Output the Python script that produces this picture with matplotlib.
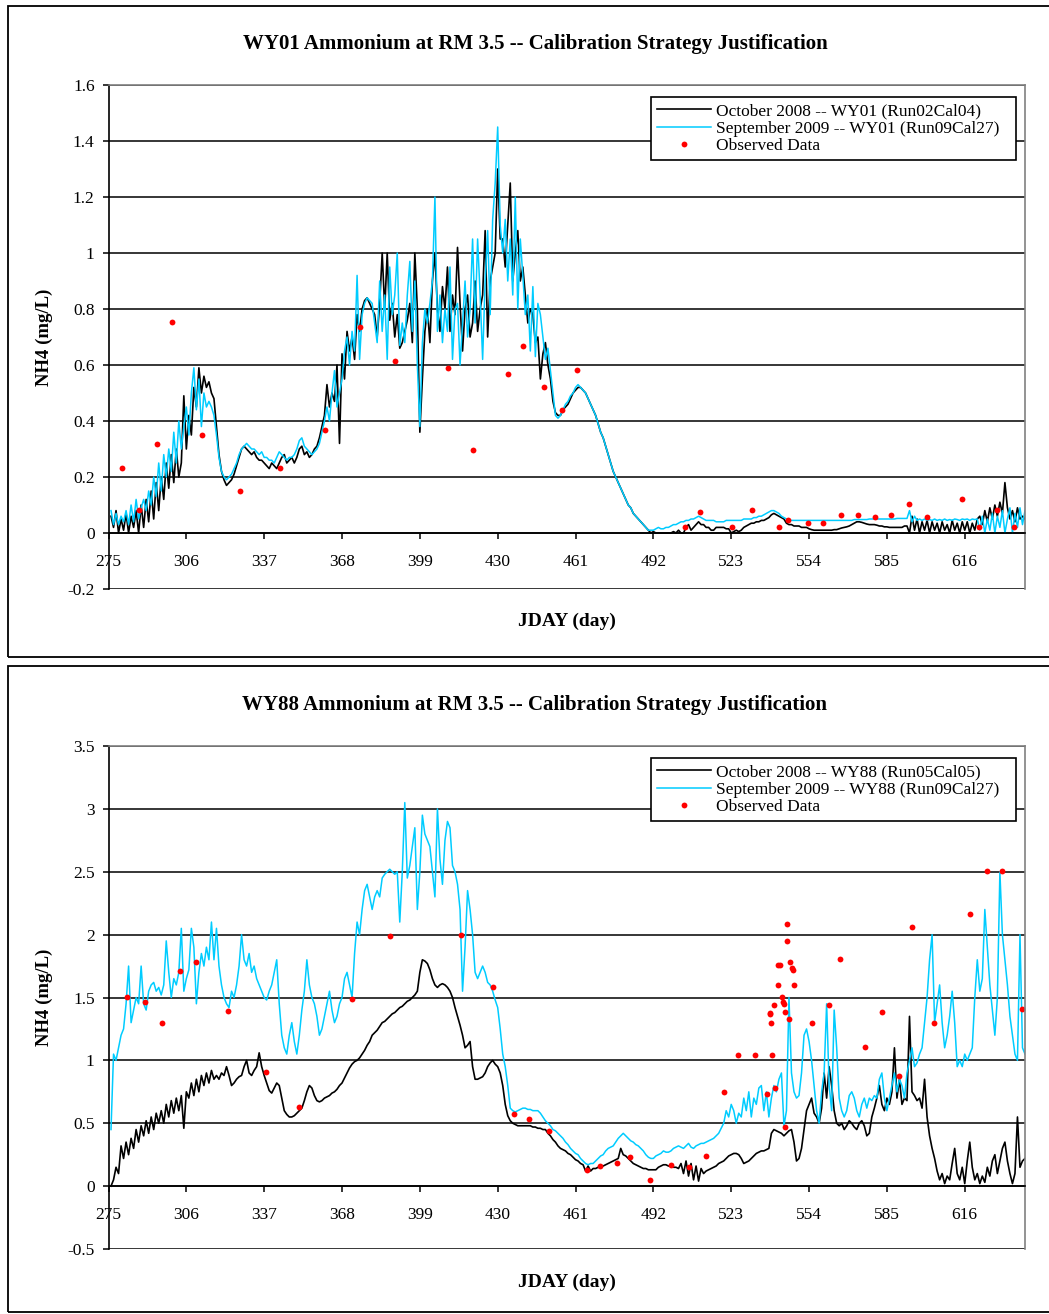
import numpy as np
import matplotlib
matplotlib.use('Agg')
import matplotlib.pyplot as plt
from matplotlib.patches import Rectangle
from matplotlib.ticker import FuncFormatter, FixedLocator

#---------------------FONT and other graphics------------------------
font = {'family': 'Liberation Serif', 'size': 12.5}
matplotlib.rc('font', **font)

#---------------------DATA------------------------
jday = np.arange(276, 641)          # daily model output, JDAY 276..640
xticks = [275, 306, 337, 368, 399, 430, 461, 492, 523, 554, 585, 616]

# WY01 -- October 2008 (Run02Cal04)
wy01_oct08 = [
    0.06, 0.02, 0.08, 0.00, 0.05, 0.01, 0.07, 0.00, 0.06, 0.02,
    0.08, 0.00, 0.10, 0.02, 0.12, 0.04, 0.15, 0.05, 0.18, 0.08,
    0.20, 0.12, 0.25, 0.16, 0.28, 0.18, 0.30, 0.20, 0.25, 0.49,
    0.30, 0.42, 0.35, 0.52, 0.45, 0.59, 0.50, 0.56, 0.52, 0.54,
    0.50, 0.48, 0.38, 0.28, 0.22, 0.19, 0.17, 0.18, 0.19, 0.21,
    0.24, 0.27, 0.30, 0.31, 0.30, 0.29, 0.28, 0.29, 0.27, 0.26,
    0.26, 0.25, 0.24, 0.23, 0.25, 0.24, 0.23, 0.25, 0.27, 0.28,
    0.25, 0.26, 0.27, 0.25, 0.27, 0.30, 0.31, 0.28, 0.29, 0.27,
    0.28, 0.30, 0.31, 0.34, 0.38, 0.42, 0.53, 0.45, 0.50, 0.47,
    0.60, 0.32, 0.64, 0.55, 0.72, 0.65, 0.70, 0.62, 0.78, 0.72,
    0.80, 0.83, 0.84, 0.82, 0.80, 0.78, 0.70, 0.82, 1.00, 0.80,
    1.00, 0.76, 0.82, 0.70, 0.78, 0.66, 0.68, 0.72, 0.76, 0.82,
    0.68, 1.00, 0.80, 0.36, 0.55, 0.72, 0.80, 0.68, 0.90, 1.00,
    0.80, 0.72, 0.88, 0.80, 0.95, 0.72, 0.85, 0.78, 1.02, 0.82,
    0.65, 0.80, 0.85, 0.70, 0.75, 0.90, 0.72, 0.80, 0.85, 1.08,
    0.70, 0.90, 0.95, 1.00, 1.30, 1.05, 1.05, 0.95, 1.10, 1.25,
    0.90, 1.00, 1.08, 0.90, 0.95, 0.85, 0.75, 0.80, 0.78, 0.68,
    0.70, 0.55, 0.64, 0.68, 0.60, 0.55, 0.47, 0.43, 0.42, 0.42,
    0.44, 0.45, 0.46, 0.48, 0.50, 0.51, 0.52, 0.52, 0.51, 0.50,
    0.48, 0.46, 0.44, 0.42, 0.39, 0.36, 0.34, 0.31, 0.28, 0.25,
    0.22, 0.20, 0.18, 0.16, 0.14, 0.12, 0.10, 0.09, 0.07, 0.06,
    0.05, 0.04, 0.03, 0.02, 0.01, 0.00, 0.005, 0.00, 0.00, 0.00,
    0.00, 0.00, 0.00, 0.00, 0.005, 0.00, 0.01, 0.00, 0.00, 0.02,
    0.03, 0.01, 0.02, 0.03, 0.04, 0.03, 0.03, 0.02, 0.02, 0.01,
    0.01, 0.02, 0.02, 0.02, 0.02, 0.015, 0.015, 0.00, 0.005, 0.01,
    0.005, 0.01, 0.02, 0.025, 0.03, 0.035, 0.035, 0.04, 0.04, 0.045,
    0.045, 0.05, 0.055, 0.065, 0.07, 0.065, 0.06, 0.055, 0.05, 0.035,
    0.03, 0.03, 0.025, 0.025, 0.025, 0.02, 0.02, 0.02, 0.015, 0.012,
    0.01, 0.01, 0.01, 0.01, 0.01, 0.01, 0.01, 0.01, 0.012, 0.012,
    0.015, 0.018, 0.02, 0.022, 0.025, 0.03, 0.035, 0.04, 0.04, 0.038,
    0.035, 0.032, 0.03, 0.03, 0.03, 0.028, 0.025, 0.025, 0.022, 0.022,
    0.02, 0.02, 0.02, 0.02, 0.02, 0.02, 0.025, 0.025, 0.00, 0.06,
    0.01, 0.05, 0.00, 0.04, 0.01, 0.045, 0.00, 0.04, 0.01, 0.035,
    0.00, 0.04, 0.01, 0.03, 0.00, 0.045, 0.01, 0.035, 0.00, 0.04,
    0.01, 0.04, 0.00, 0.035, 0.01, 0.05, 0.06, 0.03, 0.08, 0.04,
    0.09, 0.05, 0.10, 0.06, 0.11, 0.07, 0.18, 0.09, 0.05, 0.08,
    0.04, 0.09, 0.05, 0.06, 0.05]

# WY01 -- September 2009 (Run09Cal27)
wy01_sep09 = [
    0.08, 0.03, 0.07, 0.03, 0.06, 0.04, 0.08, 0.03, 0.10, 0.04,
    0.12, 0.05, 0.09, 0.12, 0.08, 0.15, 0.10, 0.20, 0.13, 0.25,
    0.15, 0.28, 0.20, 0.30, 0.22, 0.36, 0.25, 0.40, 0.30, 0.38,
    0.45, 0.35, 0.50, 0.59, 0.44, 0.55, 0.38, 0.50, 0.45, 0.47,
    0.45, 0.42, 0.35, 0.27, 0.22, 0.20, 0.19, 0.20, 0.21, 0.23,
    0.25, 0.28, 0.30, 0.31, 0.32, 0.31, 0.30, 0.30, 0.29, 0.28,
    0.29, 0.27, 0.27, 0.26, 0.26, 0.25, 0.27, 0.29, 0.28, 0.27,
    0.26, 0.27, 0.27, 0.28, 0.30, 0.33, 0.34, 0.31, 0.30, 0.29,
    0.28, 0.29, 0.30, 0.32, 0.36, 0.40, 0.45, 0.40, 0.50, 0.58,
    0.45, 0.50, 0.55, 0.65, 0.70, 0.60, 0.72, 0.65, 0.92, 0.62,
    0.78, 0.82, 0.84, 0.83, 0.82, 0.75, 0.68, 0.90, 0.72, 0.85,
    0.62, 0.95, 0.78, 0.85, 1.00, 0.67, 0.75, 0.68, 0.85, 0.97,
    0.72, 0.90, 0.60, 0.38, 0.68, 0.80, 0.75, 0.82, 0.90, 1.20,
    0.72, 0.85, 0.68, 0.80, 0.72, 0.95, 0.62, 0.80, 0.82, 0.60,
    0.75, 0.90, 0.70, 0.80, 1.05, 0.75, 1.05, 0.85, 0.62, 0.90,
    1.08, 0.78, 1.12, 1.25, 1.45, 1.10, 1.00, 1.12, 0.90, 1.05,
    0.85, 1.20, 0.80, 1.05, 0.92, 0.78, 0.85, 0.65, 0.88, 0.63,
    0.82, 0.78, 0.70, 0.62, 0.66, 0.58, 0.50, 0.42, 0.41, 0.42,
    0.44, 0.46, 0.47, 0.49, 0.50, 0.52, 0.53, 0.52, 0.51, 0.50,
    0.48, 0.46, 0.44, 0.42, 0.39, 0.36, 0.34, 0.31, 0.28, 0.25,
    0.22, 0.20, 0.18, 0.16, 0.14, 0.12, 0.10, 0.09, 0.07, 0.06,
    0.05, 0.04, 0.03, 0.02, 0.01, 0.01, 0.01, 0.015, 0.02, 0.015,
    0.015, 0.02, 0.02, 0.025, 0.03, 0.03, 0.035, 0.04, 0.04, 0.045,
    0.045, 0.05, 0.05, 0.055, 0.06, 0.055, 0.05, 0.045, 0.045, 0.045,
    0.045, 0.04, 0.04, 0.04, 0.04, 0.045, 0.045, 0.045, 0.045, 0.045,
    0.045, 0.045, 0.05, 0.05, 0.05, 0.05, 0.055, 0.055, 0.06, 0.06,
    0.065, 0.07, 0.075, 0.08, 0.08, 0.075, 0.07, 0.06, 0.055, 0.05,
    0.045, 0.045, 0.045, 0.045, 0.045, 0.045, 0.045, 0.045, 0.045, 0.045,
    0.045, 0.045, 0.045, 0.045, 0.045, 0.045, 0.045, 0.045, 0.045, 0.045,
    0.045, 0.045, 0.045, 0.045, 0.045, 0.045, 0.048, 0.048, 0.048, 0.048,
    0.048, 0.048, 0.05, 0.05, 0.05, 0.05, 0.05, 0.05, 0.05, 0.05,
    0.05, 0.05, 0.05, 0.052, 0.052, 0.052, 0.052, 0.052, 0.08, 0.04,
    0.06, 0.045, 0.05, 0.045, 0.05, 0.045, 0.048, 0.045, 0.05, 0.045,
    0.048, 0.045, 0.05, 0.045, 0.048, 0.045, 0.05, 0.048, 0.045, 0.05,
    0.048, 0.05, 0.045, 0.05, 0.048, 0.05, 0.01, 0.06, 0.00, 0.05,
    0.01, 0.07, 0.00, 0.06, 0.02, 0.08, 0.00, 0.05, 0.09, 0.00,
    0.07, 0.02, 0.09, 0.03, 0.08]

# WY01 observed
wy01_obs_day = [280.2, 287.1, 294.3, 300.1, 312.1, 327.3, 343.2, 361.2, 375.3,
                389.2, 410.4, 420.1, 434.2, 440.2, 448.3, 455.6, 461.4, 504.7,
                510.4, 523.2, 531.3, 542.1, 545.5, 553.5, 559.4, 566.9, 573.3,
                580.2, 586.8, 593.7, 600.8, 614.9, 621.7, 628.9, 635.8]
wy01_obs_nh4 = [0.232, 0.082, 0.318, 0.755, 0.351, 0.149, 0.232, 0.369, 0.735,
                0.614, 0.588, 0.298, 0.568, 0.668, 0.520, 0.440, 0.582, 0.021,
                0.074, 0.021, 0.083, 0.021, 0.045, 0.036, 0.036, 0.064, 0.064,
                0.056, 0.064, 0.104, 0.056, 0.123, 0.021, 0.083, 0.021]

# WY88 -- October 2008 (Run05Cal05)
wy88_oct08 = [
    0.00, 0.05, 0.15, 0.10, 0.32, 0.22, 0.35, 0.25, 0.38, 0.30,
    0.45, 0.35, 0.48, 0.40, 0.52, 0.42, 0.55, 0.45, 0.58, 0.50,
    0.60, 0.50, 0.65, 0.55, 0.68, 0.58, 0.70, 0.60, 0.72, 0.46,
    0.75, 0.70, 0.82, 0.72, 0.85, 0.75, 0.88, 0.80, 0.90, 0.82,
    0.92, 0.85, 0.88, 0.85, 0.90, 0.88, 0.95, 0.88, 0.80, 0.82,
    0.85, 0.87, 0.88, 0.95, 1.00, 0.90, 0.88, 0.92, 0.95, 1.06,
    0.95, 0.88, 0.82, 0.76, 0.74, 0.78, 0.82, 0.80, 0.70, 0.60,
    0.57, 0.55, 0.55, 0.56, 0.58, 0.60, 0.62, 0.68, 0.75, 0.80,
    0.78, 0.72, 0.68, 0.67, 0.68, 0.70, 0.71, 0.72, 0.74, 0.75,
    0.77, 0.80, 0.82, 0.86, 0.90, 0.94, 0.97, 0.99, 1.00, 1.02,
    1.05, 1.08, 1.12, 1.15, 1.20, 1.22, 1.24, 1.27, 1.30, 1.31,
    1.33, 1.35, 1.37, 1.38, 1.40, 1.42, 1.43, 1.45, 1.47, 1.48,
    1.50, 1.52, 1.55, 1.70, 1.80, 1.79, 1.77, 1.72, 1.65, 1.60,
    1.58, 1.60, 1.61, 1.60, 1.58, 1.55, 1.50, 1.42, 1.35, 1.28,
    1.20, 1.10, 1.12, 1.15, 0.95, 0.85, 0.85, 0.86, 0.87, 0.90,
    0.95, 0.98, 1.00, 0.97, 0.95, 0.90, 0.80, 0.65, 0.56, 0.52,
    0.50, 0.49, 0.48, 0.48, 0.48, 0.48, 0.48, 0.48, 0.47, 0.47,
    0.46, 0.46, 0.45, 0.45, 0.42, 0.40, 0.37, 0.35, 0.32, 0.30,
    0.29, 0.28, 0.26, 0.25, 0.23, 0.21, 0.20, 0.18, 0.17, 0.12,
    0.16, 0.12, 0.14, 0.14, 0.15, 0.15, 0.16, 0.17, 0.18, 0.19,
    0.20, 0.21, 0.22, 0.30, 0.25, 0.24, 0.22, 0.20, 0.18, 0.17,
    0.16, 0.15, 0.14, 0.14, 0.13, 0.13, 0.13, 0.13, 0.15, 0.16,
    0.17, 0.17, 0.16, 0.16, 0.15, 0.15, 0.14, 0.18, 0.10, 0.20,
    0.08, 0.18, 0.05, 0.16, 0.04, 0.14, 0.10, 0.12, 0.13, 0.14,
    0.15, 0.16, 0.18, 0.19, 0.20, 0.22, 0.24, 0.25, 0.26, 0.26,
    0.25, 0.22, 0.18, 0.19, 0.20, 0.22, 0.24, 0.26, 0.27, 0.28,
    0.28, 0.29, 0.30, 0.42, 0.45, 0.44, 0.43, 0.42, 0.40, 0.42,
    0.44, 0.45, 0.35, 0.20, 0.22, 0.30, 0.45, 0.60, 0.65, 0.70,
    0.58, 0.55, 0.50, 0.62, 0.90, 0.70, 0.95, 0.80, 0.60, 0.50,
    0.48, 0.50, 0.45, 0.48, 0.52, 0.50, 0.47, 0.45, 0.50, 0.52,
    0.48, 0.40, 0.42, 0.55, 0.62, 0.70, 0.80, 0.65, 0.60, 0.70,
    0.65, 0.75, 1.10, 0.70, 0.85, 0.65, 0.70, 0.68, 1.35, 0.75,
    0.72, 0.68, 0.70, 0.62, 0.85, 0.55, 0.40, 0.30, 0.22, 0.12,
    0.05, 0.10, 0.02, 0.08, 0.05, 0.18, 0.30, 0.10, 0.05, 0.15,
    0.02, 0.20, 0.35, 0.15, 0.05, 0.10, 0.02, 0.08, 0.03, 0.15,
    0.08, 0.20, 0.25, 0.10, 0.20, 0.30, 0.35, 0.20, 0.10, 0.02,
    0.10, 0.55, 0.15, 0.20, 0.22]

# WY88 -- September 2009 (Run09Cal27)
wy88_sep09 = [
    0.45, 1.05, 1.00, 1.10, 1.20, 1.25, 1.45, 1.75, 1.30, 1.40,
    1.50, 1.45, 1.75, 1.45, 1.40, 1.55, 1.60, 1.62, 1.55, 1.58,
    1.52, 1.60, 1.95, 1.70, 1.50, 1.65, 1.60, 1.70, 2.05, 1.55,
    1.65, 1.72, 2.05, 1.90, 1.45, 1.70, 1.85, 1.75, 1.90, 1.80,
    2.10, 1.80, 2.05, 1.75, 1.60, 1.50, 1.45, 1.42, 1.55, 1.50,
    1.60, 1.75, 2.00, 1.80, 1.75, 1.85, 1.70, 1.75, 1.65, 1.60,
    1.55, 1.50, 1.48, 1.55, 1.60, 1.70, 1.80, 1.45, 1.20, 1.10,
    1.05, 1.20, 1.30, 1.15, 1.05, 1.20, 1.40, 1.55, 1.80, 1.60,
    1.50, 1.45, 1.35, 1.20, 1.25, 1.35, 1.45, 1.55, 1.40, 1.30,
    1.35, 1.45, 1.50, 1.65, 1.70, 1.60, 1.50, 1.85, 2.10, 2.00,
    2.20, 2.35, 2.40, 2.30, 2.20, 2.30, 2.35, 2.30, 2.45, 2.48,
    2.50, 2.52, 2.50, 2.48, 2.50, 2.10, 2.50, 3.05, 2.45, 2.55,
    2.70, 2.85, 2.20, 2.50, 2.95, 2.80, 2.75, 2.70, 2.50, 2.30,
    3.00, 2.60, 2.40, 2.75, 2.90, 2.85, 2.55, 2.50, 2.40, 2.20,
    1.55, 1.90, 2.35, 2.20, 2.00, 1.70, 1.65, 1.70, 1.75, 1.70,
    1.62, 1.60, 1.55, 1.48, 1.42, 1.25, 1.05, 0.95, 0.80, 0.62,
    0.60, 0.59, 0.60, 0.61, 0.62, 0.62, 0.61, 0.61, 0.60, 0.60,
    0.60, 0.58, 0.55, 0.52, 0.50, 0.48, 0.45, 0.44, 0.42, 0.40,
    0.38, 0.35, 0.33, 0.30, 0.28, 0.26, 0.25, 0.22, 0.20, 0.18,
    0.17, 0.18, 0.18, 0.20, 0.22, 0.24, 0.25, 0.28, 0.30, 0.31,
    0.32, 0.35, 0.38, 0.40, 0.42, 0.40, 0.38, 0.36, 0.35, 0.33,
    0.32, 0.30, 0.28, 0.25, 0.23, 0.22, 0.22, 0.24, 0.25, 0.26,
    0.28, 0.27, 0.27, 0.28, 0.30, 0.31, 0.32, 0.31, 0.30, 0.32,
    0.34, 0.31, 0.30, 0.32, 0.33, 0.34, 0.34, 0.35, 0.36, 0.37,
    0.38, 0.40, 0.42, 0.46, 0.50, 0.60, 0.55, 0.65, 0.60, 0.50,
    0.58, 0.55, 0.70, 0.60, 0.75, 0.55, 0.70, 0.65, 0.78, 0.80,
    0.60, 0.75, 0.55, 0.70, 0.80, 0.75, 0.85, 0.90, 0.48, 0.60,
    1.50, 0.90, 0.75, 0.70, 0.72, 0.90, 1.20, 1.25, 1.15, 1.00,
    0.80, 0.60, 0.50, 0.75, 0.90, 1.45, 0.80, 0.60, 1.40, 1.10,
    0.70, 0.60, 0.55, 0.60, 0.72, 0.75, 0.70, 0.60, 0.55, 0.65,
    0.70, 0.62, 0.70, 0.68, 0.72, 0.70, 0.85, 0.90, 0.70, 0.60,
    0.70, 0.80, 0.90, 0.75, 0.85, 0.80, 0.70, 0.90, 1.00, 1.10,
    0.95, 0.98, 1.05, 1.10, 1.30, 1.50, 1.80, 2.00, 1.30, 1.45,
    1.60, 1.30, 1.10, 1.20, 1.35, 1.55, 1.30, 0.95, 1.00, 0.95,
    1.05, 1.00, 1.05, 1.10, 1.50, 1.80, 1.55, 1.65, 2.20, 1.90,
    1.60, 1.40, 1.20, 1.50, 2.50, 2.00, 1.80, 1.60, 1.35, 1.20,
    1.05, 1.00, 2.00, 1.10, 1.05]

# WY88 observed
wy88_obs_day = [282.3, 289.4, 296.4, 303.3, 310.0, 322.4, 337.9, 351.0, 372.1,
                387.1, 415.3, 428.3, 436.4, 442.4, 450.5, 465.7, 470.7, 477.6,
                482.6, 490.5, 499.1, 506.1, 513.0, 520.0, 525.6, 532.5, 537.2,
                538.3, 538.5, 539.0, 539.3, 540.0, 540.6, 541.6, 541.8, 542.4,
                543.1, 543.5, 544.0, 544.5, 544.5, 545.3, 545.3, 545.9, 546.4,
                547.3, 547.7, 548.1, 555.0, 561.9, 566.3, 576.1, 583.2, 590.0,
                594.9, 603.9, 618.1, 625.0, 630.9, 639.0]
wy88_obs_nh4 = [1.505, 1.466, 1.30, 1.71, 1.786, 1.389, 0.905, 0.627, 1.487,
                1.99, 2.0, 1.58, 0.574, 0.53, 0.44, 0.13, 0.16, 0.18,
                0.23, 0.045, 0.17, 0.156, 0.24, 0.746, 1.045, 1.045, 0.733,
                1.38, 1.37, 1.30, 1.045, 1.44, 0.78, 1.60, 1.76, 1.76,
                1.505, 1.466, 1.45, 1.386, 0.474, 2.085, 1.947, 1.333, 1.786,
                1.733, 1.72, 1.60, 1.30, 1.44, 1.807, 1.108, 1.386, 0.873,
                2.063, 1.30, 2.161, 2.505, 2.505, 1.407]

panels = [
    dict(title='WY01 Ammonium at RM 3.5 -- Calibration Strategy Justification',
         oct08=wy01_oct08, sep09=wy01_sep09, obs_x=wy01_obs_day, obs_y=wy01_obs_nh4,
         lab1='October 2008 -- WY01 (Run02Cal04)',
         lab2='September 2009 -- WY01 (Run09Cal27)',
         yticks=[-0.2, 0, 0.2, 0.4, 0.6, 0.8, 1.0, 1.2, 1.4, 1.6]),
    dict(title='WY88 Ammonium at RM 3.5 -- Calibration Strategy Justification',
         oct08=wy88_oct08, sep09=wy88_sep09, obs_x=wy88_obs_day, obs_y=wy88_obs_nh4,
         lab1='October 2008 -- WY88 (Run05Cal05)',
         lab2='September 2009 -- WY88 (Run09Cal27)',
         yticks=[-0.5, 0, 0.5, 1.0, 1.5, 2.0, 2.5, 3.0, 3.5]),
]

#------------Figure Layout--------------
W, H = 1049., 1314.
fig = plt.figure(figsize=(W / 100., H / 100.), dpi=100)

# pixel boxes (top of panel frame, top/bottom of plot area, title, labels)
frame_top = [6, 666]
frame_bot = [657, 1312]
ax_top = [85, 746]
ax_bot = [589, 1249]
title_y = [44, 705]
xlab_y = [621, 1282]
ax_left, ax_right = 108.5, 1025.

for i, p in enumerate(panels):
    # outer chart frame
    fig.patches.append(Rectangle((8 / W, 1 - frame_bot[i] / H), 1.2,
                                 (frame_bot[i] - frame_top[i]) / H,
                                 transform=fig.transFigure, fill=False,
                                 edgecolor='black', linewidth=1.3))

    ax = fig.add_axes([ax_left / W, 1 - ax_bot[i] / H,
                       (ax_right - ax_left) / W, (ax_bot[i] - ax_top[i]) / H])

    ax.plot(jday, p['oct08'], color='black', linewidth=1.2, label=p['lab1'])
    ax.plot(jday, p['sep09'], color='#00CCFF', linewidth=1.1, label=p['lab2'])
    ax.plot(p['obs_x'], p['obs_y'], linestyle='none', marker='o', markersize=4.2,
            color='red', markeredgewidth=0, label='Observed Data')

    ax.set_xlim(275, 640)
    ax.set_ylim(p['yticks'][0], p['yticks'][-1])

    ax.xaxis.set_major_locator(FixedLocator(xticks))
    ax.yaxis.set_major_locator(FixedLocator(p['yticks']))
    ax.yaxis.set_major_formatter(FuncFormatter(lambda v, pos: '%g' % v))
    ax.xaxis.set_major_formatter(FuncFormatter(lambda v, pos: '%d' % v))

    # category axis crosses at zero, as in the spreadsheet chart
    ax.spines['bottom'].set_position(('data', 0))
    ax.spines['bottom'].set_linewidth(1.2)
    ax.spines['left'].set_linewidth(1.2)
    for s in ['top', 'right']:
        ax.spines[s].set_color('#808080')
        ax.spines[s].set_linewidth(1.2)
    ax.yaxis.grid(True, color='black', linewidth=1.1)
    ax.set_axisbelow(True)
    ax.tick_params(axis='x', direction='out', length=4, width=1.1, pad=11, labelsize=12.5)
    ax.tick_params(axis='y', direction='out', length=4, width=1.1, pad=6, labelsize=12.5)

    leg = ax.legend(loc='upper left', bbox_to_anchor=(0.592, 0.976, 0.398, 0.0),
                    mode='expand', borderaxespad=0, fancybox=False, framealpha=1,
                    edgecolor='black', fontsize=12.5, handlelength=3.1,
                    handletextpad=0.3, labelspacing=0.08, borderpad=0.35,
                    numpoints=1)
    leg.get_frame().set_linewidth(1.2)

    fig.text(535 / W, 1 - title_y[i] / H, p['title'], ha='center', va='center',
             fontsize=15, fontweight='bold')
    fig.text(44 / W, 1 - (ax_top[i] + ax_bot[i]) / 2. / H, 'NH4 (mg/L)',
             rotation=90, ha='center', va='center', fontsize=13.5, fontweight='bold')
    fig.text((ax_left + ax_right) / 2. / W, 1 - xlab_y[i] / H, 'JDAY (day)',
             ha='center', va='center', fontsize=14, fontweight='bold')

#SAVING
fig.savefig('out.png', dpi=100)
